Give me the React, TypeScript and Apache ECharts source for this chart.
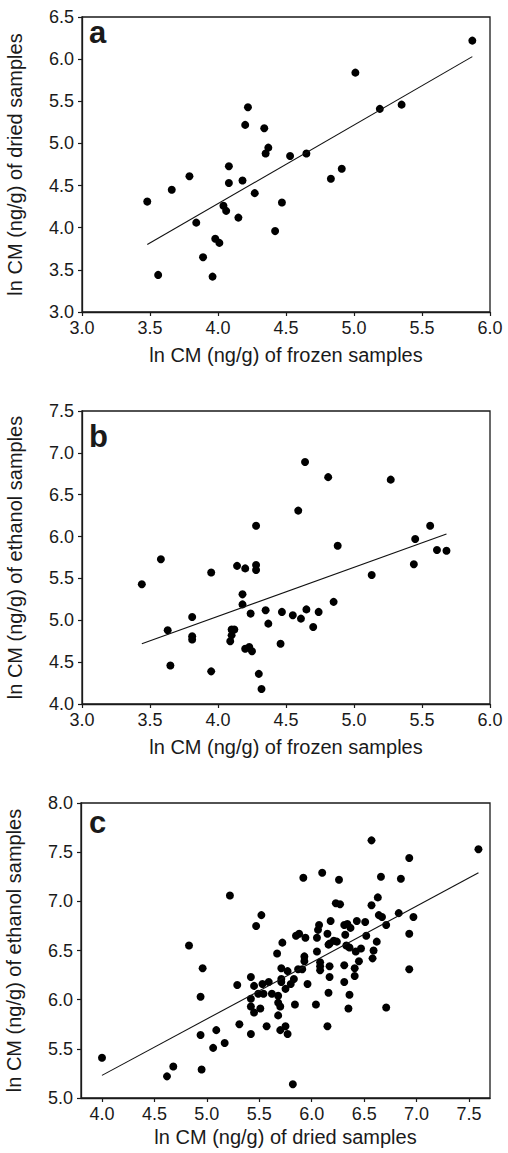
import React, { useEffect, useRef } from "react";
import * as echarts from "echarts";

// Panel a: frozen (x) vs dried (y)
const frozenA = [3.48, 3.56, 3.66, 3.79, 3.84, 3.89, 3.96, 3.98, 4.01, 4.04, 4.06, 4.08, 4.08, 4.15, 4.18, 4.2, 4.22, 4.27, 4.34, 4.35, 4.37, 4.42, 4.47, 4.53, 4.65, 4.83, 4.91, 5.01, 5.19, 5.35, 5.87];
const driedA = [4.31, 3.44, 4.45, 4.61, 4.06, 3.65, 3.42, 3.87, 3.82, 4.26, 4.2, 4.73, 4.53, 4.12, 4.56, 5.22, 5.43, 4.41, 5.18, 4.88, 4.95, 3.96, 4.3, 4.85, 4.88, 4.58, 4.7, 5.84, 5.41, 5.46, 6.22];
const fitA = [[3.48, 3.8], [5.87, 6.03]];

// Panel b: frozen (x) vs ethanol (y)
const frozenB = [3.44, 3.58, 3.63, 3.65, 3.81, 3.81, 3.81, 3.95, 3.95, 4.09, 4.1, 4.1, 4.12, 4.14, 4.18, 4.18, 4.2, 4.2, 4.23, 4.25, 4.24, 4.28, 4.28, 4.28, 4.3, 4.32, 4.35, 4.37, 4.46, 4.47, 4.55, 4.59, 4.61, 4.64, 4.65, 4.7, 4.74, 4.81, 4.85, 4.88, 5.13, 5.27, 5.44, 5.45, 5.56, 5.61, 5.68];
const ethanolB = [5.43, 5.73, 4.88, 4.46, 5.04, 4.81, 4.77, 5.57, 4.39, 4.75, 4.82, 4.89, 4.89, 5.65, 5.31, 5.19, 5.62, 4.66, 4.68, 4.63, 5.08, 6.13, 5.66, 5.6, 4.36, 4.18, 5.12, 4.96, 4.72, 5.1, 5.06, 6.31, 5.02, 6.89, 5.13, 4.92, 5.1, 6.71, 5.22, 5.89, 5.54, 6.68, 5.67, 5.97, 6.13, 5.84, 5.83];
const fitB = [[3.44, 4.72], [5.68, 6.03]];

// Panel c: dried (x) vs ethanol (y)
const driedC = [4.0, 4.62, 4.68, 4.83, 4.94, 4.94, 4.95, 4.96, 5.06, 5.09, 5.17, 5.22, 5.29, 5.31, 5.42, 5.42, 5.42, 5.42, 5.45, 5.45, 5.47, 5.51, 5.52, 5.49, 5.53, 5.54, 5.57, 5.59, 5.62, 5.67, 5.68, 5.68, 5.68, 5.7, 5.7, 5.71, 5.71, 5.72, 5.71, 5.75, 5.75, 5.77, 5.77, 5.8, 5.82, 5.83, 5.84, 5.85, 5.87, 5.88, 5.91, 5.92, 5.93, 5.94, 5.96, 5.93,
  6.1, 6.26, 6.57, 6.93, 7.59, 6.66, 6.85, 6.23, 6.27, 6.63, 6.57, 6.64, 6.67, 6.71, 6.83, 6.97, 6.93, 6.93, 6.71, 6.18, 6.07, 6.06, 6.05, 6.05, 6.08, 6.08, 6.08, 6.15, 6.16, 6.17, 6.21, 6.24, 6.17, 6.17, 6.16, 6.15, 6.04, 6.31, 6.34, 6.37, 6.32, 6.33, 6.36, 6.43, 6.51, 6.52, 6.47, 6.42, 6.45, 6.41, 6.41, 6.31, 6.31, 6.36, 6.35, 6.62, 6.59, 6.58];
const ethanolC = [5.41, 5.22, 5.32, 6.55, 6.03, 5.64, 5.29, 6.32, 5.51, 5.69, 5.56, 7.06, 6.15, 5.75, 6.23, 6.01, 5.93, 5.65, 6.14, 5.87, 6.75, 5.91, 6.86, 6.06, 6.16, 6.06, 5.73, 6.18, 6.06, 6.47, 6.04, 5.84, 5.97, 5.93, 5.69, 6.32, 6.21, 6.58, 6.18, 6.11, 5.73, 5.65, 6.29, 6.16, 5.14, 6.21, 5.95, 6.65, 6.31, 6.67, 6.31, 7.24, 6.44, 6.63, 6.16, 6.39,
  7.29, 7.22, 7.62, 7.44, 7.53, 7.25, 7.23, 6.98, 6.97, 7.04, 6.96, 6.86, 6.84, 6.76, 6.88, 6.84, 6.67, 6.31, 5.92, 6.8, 6.76, 6.71, 6.63, 6.49, 6.38, 6.34, 6.3, 6.67, 6.56, 6.57, 6.6, 6.59, 6.34, 6.23, 6.07, 5.73, 5.95, 6.76, 6.77, 6.73, 6.66, 6.55, 6.53, 6.8, 6.79, 6.65, 6.52, 6.49, 6.39, 6.32, 6.24, 6.35, 6.18, 6.05, 5.91, 6.59, 6.5, 6.42];
const fitC = [[4.0, 5.23], [7.59, 7.29]];

const xTicksC = [4.0, 4.5, 5.0, 5.5, 6.0, 6.5, 7.0, 7.5];

const panelLetters = ["a", "b", "c"];
const xTitles = ["ln CM (ng/g) of frozen samples", "ln CM (ng/g) of frozen samples", "ln CM (ng/g) of dried samples"];
const yTitles = ["ln CM (ng/g) of dried samples", "ln CM (ng/g) of ethanol samples", "ln CM (ng/g) of ethanol samples"];

const FONT = "'Liberation Sans', Arial, Helvetica, sans-serif";
const INK = "#1a1a1a";

function zip(xs: number[], ys: number[]) {
  return xs.map((x, i) => [x, ys[i]]);
}

export default function App() {
  const ref = useRef<HTMLDivElement>(null);
  useEffect(() => {
    if (!ref.current) return;
    const chart = echarts.init(ref.current, undefined, { renderer: "svg" });
    const fmt = (v: number) => v.toFixed(1);
    const grids = [
      { left: 82, top: 17, width: 408, height: 295 },
      { left: 82, top: 411, width: 408, height: 293 },
      { left: 81, top: 803, width: 409, height: 295 },
    ];
    const xRanges = [
      { min: 3, max: 6, interval: 0.5 },
      { min: 3, max: 6, interval: 0.5 },
      { min: 3.8, max: 7.7 },
    ];
    const yRanges = [
      { min: 3, max: 6.5, interval: 0.5 },
      { min: 4, max: 7.5, interval: 0.5 },
      { min: 5, max: 8, interval: 0.5 },
    ];
    const axisBase = {
      axisLine: { show: true, onZero: false, lineStyle: { color: INK, width: 1.3 } },
      axisTick: { show: true, length: 4, lineStyle: { color: INK, width: 1.2 } },
      splitLine: { show: false },
    };
    const xAxis = grids.map((_, i) => ({
      type: "value",
      gridIndex: i,
      ...xRanges[i],
      ...axisBase,
      axisTick: i === 2 ? { ...axisBase.axisTick, customValues: xTicksC } : axisBase.axisTick,
      axisLabel: {
        color: INK,
        fontSize: 18,
        fontFamily: FONT,
        margin: 7,
        formatter: fmt,
        ...(i === 2 ? { customValues: xTicksC } : {}),
      },
      name: xTitles[i],
      nameLocation: "middle",
      nameGap: i === 2 ? 29 : 33,
      nameTextStyle: { color: INK, fontSize: 20, fontFamily: FONT },
    }));
    const yAxis = grids.map((_, i) => ({
      type: "value",
      gridIndex: i,
      ...yRanges[i],
      ...axisBase,
      axisLabel: { color: INK, fontSize: 18, fontFamily: FONT, margin: 8, formatter: fmt },
      name: yTitles[i],
      nameLocation: "middle",
      nameGap: 57,
      nameTextStyle: { color: INK, fontSize: 20, fontFamily: FONT },
    }));
    const scatterData = [zip(frozenA, driedA), zip(frozenB, ethanolB), zip(driedC, ethanolC)];
    const fits = [fitA, fitB, fitC];
    const series: any[] = [];
    for (let i = 0; i < 3; i++) {
      series.push({
        type: "scatter",
        xAxisIndex: i,
        yAxisIndex: i,
        data: scatterData[i],
        symbol: "circle",
        symbolSize: 8,
        itemStyle: { color: "#000", opacity: 1 },
      });
      series.push({
        type: "line",
        xAxisIndex: i,
        yAxisIndex: i,
        data: fits[i],
        symbol: "none",
        lineStyle: { color: "#111", width: 1.1 },
      });
    }
    const letterY = [32, 436, 822];
    chart.setOption({
      animation: false,
      grid: grids.map((g) => ({
        ...g,
        show: true,
        borderColor: INK,
        borderWidth: 1.3,
        backgroundColor: "transparent",
        containLabel: false,
        outerBoundsMode: "none",
      })),
      xAxis,
      yAxis,
      series,
      graphic: panelLetters.map((t, i) => ({
        type: "text",
        left: 89,
        top: letterY[i] - 15,
        style: { text: t, fontSize: 31, fontWeight: "bold", fontFamily: FONT, fill: INK },
      })),
    });
    return () => chart.dispose();
  }, []);
  return <div ref={ref} style={{ position: "absolute", left: 0, top: 0, width: 508, height: 1153 }} />;
}
